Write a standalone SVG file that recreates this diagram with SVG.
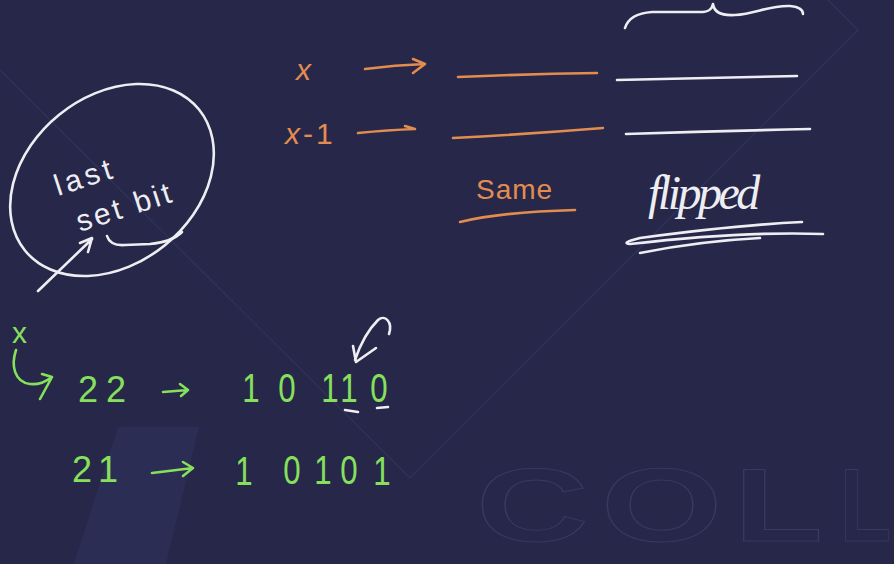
<svg xmlns="http://www.w3.org/2000/svg" width="894" height="564" viewBox="0 0 894 564">
<style>
.ink{fill:none;stroke-width:2.6;stroke-linecap:round;stroke-linejoin:round}
.w{stroke:#eeeef2}
.o{stroke:#e38c50}
.g{stroke:#86e05c}
.t{font-family:"Liberation Sans",Arial,sans-serif;font-weight:normal}
.tw{fill:#eeeef2}
.to{fill:#e38c50}
.tg{fill:#86e05c}
.dg{font-family:"Liberation Sans",Arial,sans-serif;font-size:40px;fill:#86e05c;text-anchor:middle}
.wm{font-family:"Liberation Sans",Arial,sans-serif;font-weight:bold;font-size:104px;fill:none;stroke:#383961;stroke-width:1}
.bgline{fill:none;stroke:#303157;stroke-width:1.5}
</style>
<rect width="894" height="564" fill="#262749"/>
<g id="background">
<path d="M118,427 L199,427 L166,564 L74,564 Z" fill="#2c2d54"/>
<path class="bgline" d="M0,70 L410,478 L858,30 L828,0"/>
<text class="wm" transform="translate(476,541) scale(1.5 1)" x="0" y="0">C</text>
<text class="wm" transform="translate(601,541) scale(1.5 1)" x="0" y="0">O</text>
<text class="wm" transform="translate(734,541) scale(1.4 1)" x="0" y="0">L</text>
<text class="wm" transform="translate(840,541) scale(0.8 1)" x="0" y="0">L</text>
</g>
<g id="last-set-bit">
<ellipse class="ink w" cx="112" cy="180" rx="112" ry="84" transform="rotate(-39 112 180)"/>
<text class="t tw" x="58" y="196" font-size="30" letter-spacing="4" transform="rotate(-18 58 196)">last</text>
<text class="t tw" x="80" y="232" font-size="30" letter-spacing="3" transform="rotate(-18 80 232)">set bit</text>
<path class="ink w" d="M107,236 Q110,246 125,245 L150,244 Q172,242 182,232"/>
<path class="ink w" d="M38,291 L92,239 M80,243 L92,238 L88,252"/>
</g>
<g id="brace">
<path class="ink w" d="M625,28 C628,18 638,13 652,12 L700,12 C708,12 712,10 713,4 C714,12 720,16 735,15 C755,14 770,5 790,6 C800,7 803,10 803,14"/>
</g>
<g id="row-x">
<text class="t to" x="296" y="80" font-size="30" font-style="italic">x</text>
<path class="ink o" d="M365,69 Q395,65 425,64 M413,59 L425,64 L413,73"/>
<path class="ink o" d="M458,77 Q530,74 597,73"/>
<path class="ink w" d="M617,80 Q710,78 797,76"/>
</g>
<g id="row-x-1">
<text class="t to" x="285" y="144" font-size="30" letter-spacing="3"><tspan font-style="italic">x</tspan>-1</text>
<path class="ink o" d="M358,133 Q388,130 415,129 M405,126 L415,129"/>
<path class="ink o" d="M453,138 Q530,134 603,128"/>
<path class="ink w" d="M626,134 Q720,131 810,129"/>
</g>
<g id="same">
<text class="t to" x="476" y="199" font-size="28" letter-spacing="1">Same</text>
<path class="ink o" d="M460,222 Q500,212 575,210"/>
</g>
<g id="flipped">
<text x="648" y="209" font-family="Liberation Serif,Times New Roman,serif" font-style="italic" font-size="48" letter-spacing="-3.5" fill="#eeeef2">flipped</text>
<path class="ink w" d="M802,222 C760,224 700,230 640,238 Q620,243 630,244 C700,236 770,232 823,234"/>
<path class="ink w" d="M640,253 C680,245 720,240 760,238"/>
</g>
<g id="row-22">
<text class="t tg" x="12" y="343" font-size="30">x</text>
<path class="ink g" d="M16,350 C11,365 14,382 30,384 C40,385 46,381 51,378 M42,374 L52,377 L40,399"/>
<text class="t tg" x="78" y="402" font-size="36" letter-spacing="8">22</text>
<path class="ink g" d="M163,392 L188,390 M180,384 L188,390 L181,396"/>
<text class="dg" transform="translate(251,402) scale(0.78 1)">1</text>
<text class="dg" transform="translate(287,402) scale(0.78 1)">0</text>
<text class="dg" transform="translate(330,402) scale(0.78 1)">1</text>
<text class="dg" transform="translate(349,402) scale(0.78 1)">1</text>
<text class="dg" transform="translate(379,402) scale(0.78 1)">0</text>
<path class="ink w" d="M345,410 L358,412 M377,408 L388,407"/>
<path class="ink w" d="M389,334 C393,322 385,314 378,320 C368,330 360,345 355,360 M353,346 L356,362 L376,348"/>
</g>
<g id="row-21">
<text class="t tg" x="72" y="482" font-size="36" letter-spacing="6">21</text>
<path class="ink g" d="M152,473 L193,468 M183,462 L193,468 L183,476"/>
<text class="dg" transform="translate(244,485) scale(0.78 1)">1</text>
<text class="dg" transform="translate(292,484) scale(0.78 1)">0</text>
<text class="dg" transform="translate(323,484) scale(0.78 1)">1</text>
<text class="dg" transform="translate(349,484) scale(0.78 1)">0</text>
<text class="dg" transform="translate(382,485) scale(0.78 1)">1</text>
</g>
</svg>
